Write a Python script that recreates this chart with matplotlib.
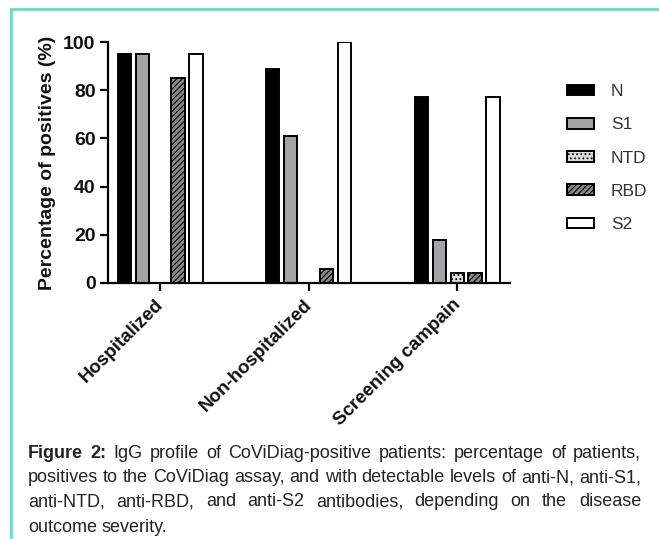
import matplotlib
matplotlib.use("Agg")
import matplotlib.pyplot as plt
import matplotlib.transforms as mtransforms
from matplotlib.patches import Patch
from matplotlib.lines import Line2D
import numpy as np

groups = ["Hospitalized", "Non-hospitalized", "Screening campain"]
antigens = ["N", "S1", "NTD", "RBD", "S2"]
N = [95, 89, 77]
S1 = [95, 61, 18]
NTD = [0, 0, 4]
RBD = [85, 6, 4]
S2 = [95, 100, 77]

caption = [
    [("Figure 2:", "bold"), ("IgG profile of CoViDiag-positive patients: percentage of patients,", "normal")],
    [("positives to the CoViDiag assay, and with detectable levels of anti-N, anti-S1,", "normal")],
    [("anti-NTD, anti-RBD, and anti-S2 antibodies, depending on the disease", "normal")],
    [("outcome severity.", "normal")],
]

plt.rcParams["font.family"] = ["Liberation Sans", "DejaVu Sans"]
plt.rcParams["hatch.linewidth"] = 0.8

fig = plt.figure(figsize=(6.59, 5.39), dpi=100)
ax = fig.add_axes([0.164, 0.475, 0.61, 0.447])

styles = [
    dict(color="black", hatch=None),
    dict(color="#a3a3a5", hatch=None),
    dict(color="#dcdcdc", hatch="...."),
    dict(color="#8a8a8a", hatch="//////"),
    dict(color="white", hatch=None),
]
series = [N, S1, NTD, RBD, S2]
x = np.arange(len(groups))
step = 0.121
width = 0.088
handles = []
for i, (vals, st) in enumerate(zip(series, styles)):
    pos = x + (i - 2) * step
    ax.bar(pos, vals, width, facecolor=st["color"], edgecolor="black",
           linewidth=1.4, hatch=st["hatch"], zorder=2)
    handles.append(Patch(facecolor=st["color"], edgecolor="black",
                         linewidth=1.4, hatch=st["hatch"], label=antigens[i]))

ax.set_xlim(-0.35, 2.357)
ax.set_ylim(0, 100)
ax.set_yticks([0, 20, 40, 60, 80, 100])
ax.set_xticks(x)
ax.set_xticklabels([])
# slanted group labels, placed a bit right of and below each tick
shift = mtransforms.ScaledTranslation(0.07, -0.13, fig.dpi_scale_trans)
for xi, g in zip(x, groups):
    ax.text(xi, 0, g, rotation=45, ha="right", va="top",
            fontsize=13.5, fontweight="bold", color="#111111",
            transform=ax.get_xaxis_transform() + shift)
for lab in ax.get_yticklabels():
    lab.set_fontweight("bold")
    lab.set_fontsize(14)
    lab.set_color("#111111")
ax.set_ylabel("Percentage of positives (%)", fontsize=14, fontweight="bold",
              labelpad=5, color="#111111")
for s in ["top", "right"]:
    ax.spines[s].set_visible(False)
for s in ["left", "bottom"]:
    ax.spines[s].set_linewidth(1.6)
ax.tick_params(axis="both", width=1.6, length=6, direction="out")
ax.tick_params(axis="y", pad=3)

leg = fig.legend(handles=handles, loc="upper left", bbox_to_anchor=(0.836, 0.873),
                 frameon=False, fontsize=12.5, handlelength=1.6, handleheight=0.57,
                 labelspacing=1.05, handletextpad=0.95, borderpad=0.4)
for t in leg.get_texts():
    t.set_color("#333333")

# teal frame lines
teal = "#7fd8cb"
fig.add_artist(Line2D([0.017, 0.017], [0.0, 0.983], color=teal, linewidth=2.2))
fig.add_artist(Line2D([0.017, 1.0], [0.983, 0.983], color=teal, linewidth=2.2))

# justified caption, font size fitted to the fullest line
fig.canvas.draw()
renderer = fig.canvas.get_renderer()
x0, x1 = 28 / 659, 641 / 659
line_y = [453, 478, 502, 527]
cap_font = ["Liberation Sans", "DejaVu Sans"]

probe = fig.text(0, 0, caption[1][0][0], fontsize=10, family=cap_font)
w10 = probe.get_window_extent(renderer).width / fig.bbox.width
probe.remove()
cap_size = 10 * (x1 - x0) / w10

sp = fig.text(0, 0, "a b", fontsize=cap_size, family=cap_font)
sp2 = fig.text(0, 0, "ab", fontsize=cap_size, family=cap_font)
space_w = (sp.get_window_extent(renderer).width - sp2.get_window_extent(renderer).width) / fig.bbox.width
sp.remove()
sp2.remove()

for li, (parts, yy) in enumerate(zip(caption, line_y)):
    words = []
    for txt, wt in parts:
        for w in txt.split(" "):
            words.append((w, wt))
    arts = []
    for w, wt in words:
        t = fig.text(0, 1 - yy / 539, w, fontsize=cap_size, fontweight=wt,
                     family=cap_font, va="center", ha="left", color="#222222")
        arts.append(t)
    widths = [t.get_window_extent(renderer).width / fig.bbox.width for t in arts]
    if li < len(caption) - 1:
        gap = (x1 - x0 - sum(widths)) / (len(arts) - 1)
    else:
        gap = space_w
    cx = x0
    for t, w in zip(arts, widths):
        t.set_x(cx)
        cx += w + gap

fig.savefig("out.png", dpi=100)
